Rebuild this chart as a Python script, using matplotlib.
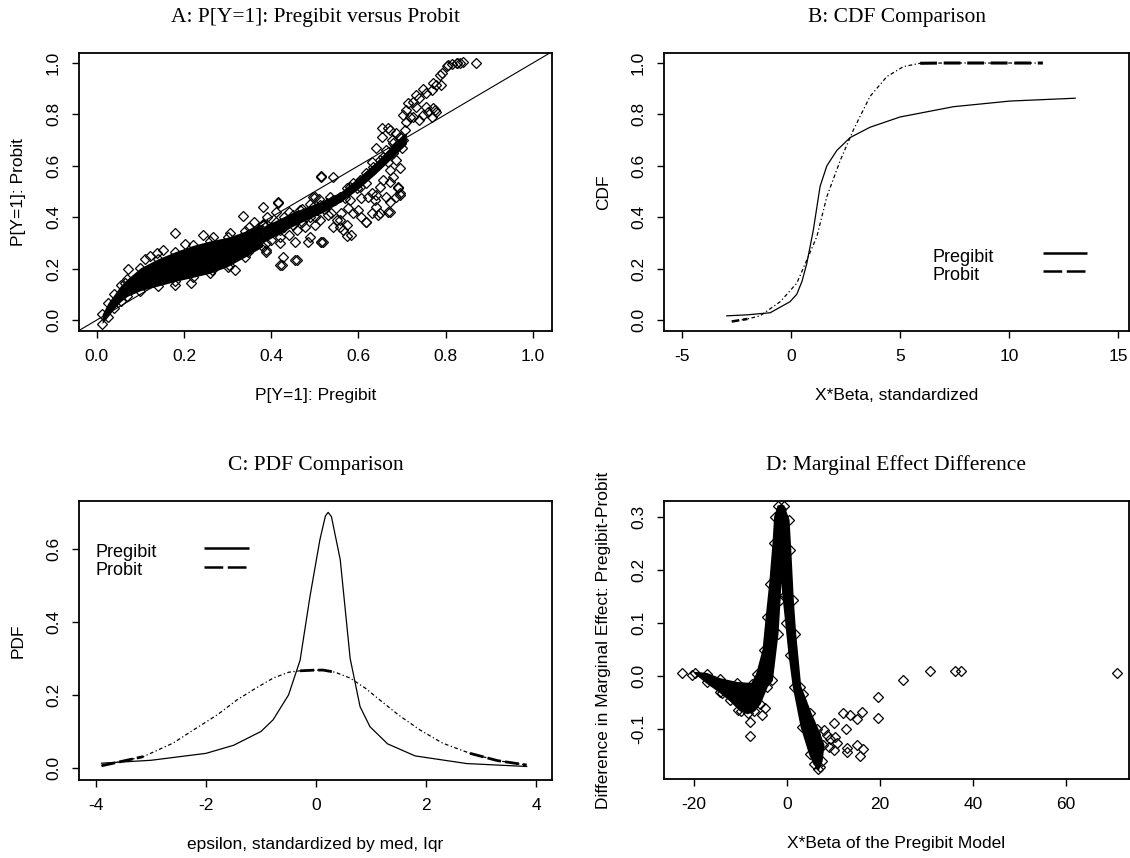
import matplotlib
matplotlib.use('Agg')
import matplotlib.pyplot as plt
import numpy as np

plt.rcParams['font.family'] = ['Liberation Sans', 'DejaVu Sans']

# ---------------- Panel A data: P[Y=1] Pregibit (x) vs Probit (y) ----------------
a_band_x = [0.012, 0.025, 0.04, 0.055, 0.07, 0.10, 0.14, 0.18, 0.22, 0.26, 0.30, 0.34, 0.38]
a_band_lo = [-0.014, 0.012, 0.045, 0.072, 0.092, 0.114, 0.132, 0.150, 0.166, 0.182, 0.208, 0.245, 0.285]
a_band_hi = [0.022, 0.065, 0.100, 0.135, 0.160, 0.203, 0.238, 0.266, 0.290, 0.308, 0.322, 0.345, 0.375]

a_core_x = [0.38, 0.45, 0.52, 0.56, 0.60, 0.64, 0.68, 0.71]
a_core_lo = [0.300, 0.365, 0.420, 0.460, 0.510, 0.570, 0.635, 0.685]
a_core_hi = [0.362, 0.420, 0.465, 0.500, 0.555, 0.615, 0.685, 0.730]

a_upper_x = [0.802, 0.814, 0.826, 0.832, 0.869, 0.787, 0.771, 0.790, 0.748, 0.756, 0.768, 0.733, 0.740, 0.714,
             0.725, 0.710, 0.733, 0.756, 0.771, 0.779, 0.768, 0.703, 0.718, 0.710, 0.725, 0.748, 0.740]
a_upper_y = [0.988, 0.996, 1.001, 1.001, 1.001, 0.953, 0.923, 0.914, 0.898, 0.882, 0.895, 0.875, 0.862, 0.843,
             0.850, 0.817, 0.830, 0.830, 0.824, 0.811, 0.791, 0.798, 0.791, 0.772, 0.791, 0.798, 0.778]

a_mid_x = [0.668, 0.653, 0.676, 0.687, 0.695, 0.703, 0.691, 0.699, 0.641, 0.680, 0.657, 0.630, 0.668, 0.687,
           0.695, 0.672, 0.657, 0.649, 0.680, 0.672, 0.691, 0.695, 0.687, 0.664, 0.672, 0.649, 0.668, 0.641,
           0.630, 0.638, 0.618, 0.603, 0.596, 0.580, 0.569, 0.580, 0.588, 0.600, 0.618, 0.607, 0.573, 0.584,
           0.565, 0.557, 0.542, 0.515, 0.534, 0.546, 0.523, 0.496, 0.504, 0.538, 0.550, 0.561, 0.511, 0.489,
           0.500, 0.489, 0.477, 0.519, 0.557, 0.542, 0.577, 0.607, 0.622, 0.641, 0.630]
a_mid_y = [0.746, 0.713, 0.700, 0.726, 0.713, 0.700, 0.681, 0.668, 0.668, 0.649, 0.636, 0.616, 0.616, 0.622,
           0.590, 0.584, 0.545, 0.519, 0.558, 0.538, 0.512, 0.486, 0.480, 0.480, 0.460, 0.415, 0.421, 0.486,
           0.493, 0.467, 0.532, 0.519, 0.512, 0.519, 0.473, 0.467, 0.415, 0.428, 0.383, 0.402, 0.370, 0.331,
           0.350, 0.389, 0.558, 0.558, 0.480, 0.467, 0.447, 0.480, 0.428, 0.415, 0.389, 0.415, 0.389, 0.402,
           0.370, 0.324, 0.363, 0.305, 0.363, 0.363, 0.435, 0.473, 0.480, 0.441, 0.415]

a_trend_x = [0.466, 0.481, 0.496, 0.511, 0.527, 0.542, 0.557, 0.573, 0.588, 0.603, 0.618, 0.634, 0.649, 0.664,
             0.680, 0.695, 0.706]
a_trend_y = [0.428, 0.415, 0.441, 0.447, 0.454, 0.467, 0.480, 0.512, 0.532, 0.545, 0.571, 0.597, 0.622, 0.661,
             0.687, 0.713, 0.739]

a_outl_x = [0.072, 0.064, 0.110, 0.122, 0.137, 0.152, 0.179, 0.202, 0.244, 0.267, 0.305, 0.336, 0.381, 0.416,
            0.513, 0.500, 0.179, 0.217, 0.263, 0.317, 0.302, 0.347, 0.389, 0.424, 0.428, 0.454, 0.420, 0.454,
            0.485, 0.515, 0.416, 0.389, 0.389, 0.458, 0.420, 0.515, 0.573, 0.618, 0.645, 0.672, 0.691, 0.695,
            0.672, 0.653, 0.778, 0.840, 0.825, 0.806, 0.791, 0.760, 0.775]
a_outl_y = [0.197, 0.142, 0.239, 0.248, 0.259, 0.272, 0.339, 0.295, 0.331, 0.324, 0.337, 0.406, 0.441, 0.457,
            0.560, 0.480, 0.136, 0.142, 0.194, 0.194, 0.214, 0.265, 0.265, 0.214, 0.246, 0.233, 0.324, 0.304,
            0.304, 0.304, 0.458, 0.298, 0.272, 0.233, 0.214, 0.305, 0.327, 0.380, 0.409, 0.422, 0.519, 0.493,
            0.739, 0.746, 0.914, 1.003, 0.999, 0.992, 0.960, 0.811, 0.817]

a_cloud_x = [0.31, 0.33, 0.35, 0.36, 0.37, 0.38, 0.39, 0.40, 0.41, 0.42, 0.43, 0.44, 0.45, 0.46, 0.47, 0.48,
             0.40, 0.42, 0.44, 0.46, 0.35, 0.39, 0.41, 0.36, 0.43, 0.45, 0.47, 0.49, 0.50, 0.52, 0.53, 0.49,
             0.51, 0.44, 0.37, 0.38]
a_cloud_y = [0.30, 0.32, 0.33, 0.30, 0.35, 0.34, 0.37, 0.36, 0.38, 0.35, 0.40, 0.38, 0.41, 0.39, 0.43, 0.40,
             0.31, 0.30, 0.33, 0.35, 0.36, 0.40, 0.42, 0.38, 0.36, 0.37, 0.38, 0.42, 0.40, 0.43, 0.41, 0.45,
             0.47, 0.42, 0.32, 0.37]

# ---------------- Panel B data: CDF comparison ----------------
b_x_preg = [-2.95, -2.0, -0.96, -0.05, 0.26, 0.50, 0.72, 1.02, 1.33, 1.64, 2.10, 2.71, 3.62, 5.00, 7.45, 10.05, 13.03]
b_y_preg = [0.016, 0.020, 0.028, 0.071, 0.10, 0.15, 0.22, 0.35, 0.52, 0.60, 0.66, 0.71, 0.75, 0.79, 0.83, 0.852, 0.863]
b_x_prob = [-2.72, -2.0, -1.42, -0.50, 0.26, 0.72, 1.18, 1.64, 2.25, 2.86, 3.62, 4.39, 5.15, 5.92, 7.0, 9.0, 11.55]
b_y_prob = [-0.006, 0.004, 0.016, 0.071, 0.143, 0.233, 0.324, 0.48, 0.62, 0.74, 0.87, 0.947, 0.986, 0.999, 1.0, 1.0, 1.0]

# ---------------- Panel C data: PDF comparison ----------------
c_x_preg = [-3.90, -3.00, -2.00, -1.50, -1.00, -0.78, -0.50, -0.29, -0.11, 0.07, 0.17, 0.22, 0.28, 0.44, 0.62,
            0.80, 0.98, 1.30, 1.80, 2.74, 3.83]
c_y_preg = [0.013, 0.021, 0.040, 0.062, 0.100, 0.132, 0.200, 0.295, 0.470, 0.625, 0.690, 0.700, 0.688, 0.570,
            0.300, 0.168, 0.113, 0.066, 0.033, 0.012, 0.004]
c_x_prob = [-3.90, -3.14, -2.60, -2.23, -1.80, -1.44, -1.10, -0.78, -0.50, -0.29, 0.0, 0.13, 0.35, 0.62, 0.90,
            1.16, 1.50, 1.89, 2.30, 2.80, 3.30, 3.83]
c_y_prob = [0.006, 0.031, 0.068, 0.104, 0.145, 0.186, 0.218, 0.246, 0.262, 0.266, 0.268, 0.268, 0.262, 0.246,
            0.218, 0.186, 0.145, 0.104, 0.068, 0.040, 0.020, 0.008]

# ---------------- Panel D data: marginal effect difference ----------------
d_poly_x = [-19.8, -17.3, -14.4, -10.8, -7.6, -6.5, -5.1, -4.4, -3.66, -2.95, -2.6, -1.9, -0.8, 0.28, 0.65,
            1.2, 1.7, 2.8, 3.4, 5.0, 6.5, 7.8, 7.4, 6.7, 5.8, 4.9, 3.1, 1.4, 0.5, -0.2, -0.8, -1.35, -1.65,
            -2.09, -3.3, -4.4, -5.9, -7.1, -8.5, -10.0, -12.2, -14.4, -17.3]
d_poly_y = [0.006, 0.004, -0.006, -0.013, -0.015, 0.003, 0.049, 0.112, 0.174, 0.250, 0.300, 0.320, 0.320,
            0.294, 0.238, 0.143, 0.080, -0.020, -0.033, -0.070, -0.100, -0.130, -0.160, -0.175, -0.165,
            -0.147, -0.096, -0.020, 0.040, 0.100, 0.150, 0.206, 0.143, 0.080, -0.008, -0.020, -0.052,
            -0.065, -0.070, -0.065, -0.046, -0.030, -0.012]
d_pts_x = [-22.6, -20.5, -7.9, -7.9, -10.5, -14.0, -5.4, -4.7, 6.0, 7.96, 8.53, 9.25, 9.96, 10.3, 10.7, 9.96,
           8.89, 11.97, 13.4, 14.98, 16.06, 12.69, 12.83, 12.83, 14.98, 15.55, 16.4, 19.6, 19.6, 24.9, 30.75,
           36.1, 37.4, 71.0, -1.3, 6.96]
d_pts_y = [0.005, 0.002, -0.086, -0.113, -0.064, -0.031, -0.074, -0.061, -0.109, -0.101, -0.111, -0.118,
           -0.089, -0.115, -0.127, -0.140, -0.133, -0.070, -0.074, -0.080, -0.067, -0.099, -0.135, -0.143,
           -0.130, -0.150, -0.138, -0.039, -0.079, -0.0075, 0.010, 0.010, 0.010, 0.005, 0.314, -0.172]

# ---------------- ticks / labels ----------------
a_ticks = [0.0, 0.2, 0.4, 0.6, 0.8, 1.0]
a_ticklabels = ['0.0', '0.2', '0.4', '0.6', '0.8', '1.0']
b_xticks = [-5, 0, 5, 10, 15]
c_xticks = [-4, -2, 0, 2, 4]
c_yticks = [0.0, 0.2, 0.4, 0.6]
c_yticklabels = ['0.0', '0.2', '0.4', '0.6']
d_xticks = [-20, 0, 20, 40, 60]
d_yticks = [-0.1, 0.0, 0.1, 0.2, 0.3]
d_yticklabels = ['-0.1', '0.0', '0.1', '0.2', '0.3']
legend_labels = ['Pregibit', 'Probit']

# ---------------- figure ----------------
W, H = 1130, 858
fig = plt.figure(figsize=(W / 100, H / 100), dpi=100)


def add_axes(l, r, t, b):
    return fig.add_axes([l / W, 1 - b / H, (r - l) / W, (b - t) / H])


axA = add_axes(79, 552, 53, 331)
axB = add_axes(664, 1129, 53, 331)
axC = add_axes(79, 552, 501, 780)
axD = add_axes(664, 1129, 501, 779)

LBL = 12.5
mk = dict(ls='none', marker='D', ms=4.6, mfc='none', mec='k', mew=0.9)
THIN_DASHDOT = (0, (3, 2, 1, 2))
LEG_DASH = (0, (7.5, 1.8))


def style(ax, xticks, xtl, yticks, ytl, xlabel, ylabel, title, xlim, ylim, ylx):
    ax.set_xlim(*xlim)
    ax.set_ylim(*ylim)
    ax.set_xticks(xticks)
    ax.set_xticklabels(xtl)
    ax.set_yticks(yticks)
    ax.set_yticklabels(ytl)
    ax.tick_params(direction='out', length=5, width=1.0, pad=8, labelsize=LBL, colors='k')
    for lab in ax.get_yticklabels():
        lab.set_rotation(90)
        lab.set_va('center')
    for s in ax.spines.values():
        s.set_linewidth(1.3)
    ax.set_xlabel(xlabel, fontsize=LBL)
    ax.xaxis.set_label_coords(0.5, -0.205)
    ax.set_ylabel(ylabel, fontsize=LBL)
    ax.yaxis.set_label_coords(ylx, 0.5)
    ax.set_title(title, family=['Liberation Serif', 'DejaVu Serif'], fontsize=15.5, pad=22)


def key(ax, tx, ty1, ty2, lx1, lx2, ly1, ly2):
    """R-style legend without box: labels on the left, line samples on the right."""
    ax.text(tx, ty1, legend_labels[0], transform=ax.transAxes, fontsize=13, va='baseline', ha='left')
    ax.text(tx, ty2, legend_labels[1], transform=ax.transAxes, fontsize=13, va='baseline', ha='left')
    ax.plot([lx1, lx2], [ly1, ly1], transform=ax.transAxes, color='k', lw=1.8, solid_capstyle='butt')
    ax.plot([lx1, lx2], [ly2, ly2], transform=ax.transAxes, color='k', lw=1.8, ls=LEG_DASH,
            dash_capstyle='butt')


# Panel A
axA.fill_between(a_band_x, a_band_lo, a_band_hi, color='k', lw=0)
axA.fill_between(a_core_x, a_core_lo, a_core_hi, color='k', lw=0)
axA.plot(a_band_x, a_band_hi, **mk)
axA.plot(a_band_x, a_band_lo, **mk)
for xs, ys in [(a_upper_x, a_upper_y), (a_mid_x, a_mid_y), (a_trend_x, a_trend_y),
               (a_outl_x, a_outl_y), (a_cloud_x, a_cloud_y)]:
    axA.plot(xs, ys, **mk)
axA.axline((0, 0), (1, 1), color='k', lw=0.8)
style(axA, a_ticks, a_ticklabels, a_ticks, a_ticklabels, 'P[Y=1]: Pregibit', 'P[Y=1]: Probit',
      'A: P[Y=1]: Pregibit versus Probit', (-0.041, 1.044), (-0.043, 1.039), -0.112)

# Panel B
bxp = np.array(b_x_prob)
byp = np.array(b_y_prob)
axB.plot(b_x_preg, b_y_preg, color='k', lw=0.9)
axB.plot(bxp, byp, color='k', lw=0.9, ls=THIN_DASHDOT)
axB.plot(bxp, np.where(bxp >= 5.8, byp, np.nan), color='k', lw=2.2, ls=(0, (5.5, 2.2)))
axB.plot(bxp, np.where(bxp <= -2.0, byp, np.nan), color='k', lw=1.8, ls=(0, (3, 1.5)))
key(axB, 0.578, 0.248, 0.183, 0.815, 0.910, 0.281, 0.216)
style(axB, b_xticks, [str(v) for v in b_xticks], a_ticks, a_ticklabels, 'X*Beta, standardized', 'CDF',
      'B: CDF Comparison', (-5.83, 15.5), (-0.043, 1.039), -0.114)

# Panel C
cxp = np.array(c_x_prob)
cyp = np.array(c_y_prob)
axC.plot(c_x_preg, c_y_preg, color='k', lw=0.9)
axC.plot(cxp, cyp, color='k', lw=0.9, ls=THIN_DASHDOT)
for m in [(cxp <= -3.1), (cxp >= 2.75), ((cxp >= -0.3) & (cxp <= 0.35))]:
    axC.plot(cxp, np.where(m, cyp, np.nan), color='k', lw=2.0, ls=(0, (5, 1.5)))
key(axC, 0.034, 0.800, 0.735, 0.264, 0.359, 0.832, 0.763)
style(axC, c_xticks, [str(v) for v in c_xticks], c_yticks, c_yticklabels,
      'epsilon, standardized by med, Iqr', 'PDF', 'C: PDF Comparison', (-4.31, 4.29), (-0.033, 0.731), -0.112)

# Panel D
axD.fill(d_poly_x, d_poly_y, color='k', lw=1.5, ec='k')
axD.plot(d_poly_x, d_poly_y, **mk)
axD.plot(d_pts_x, d_pts_y, **mk)
style(axD, d_xticks, [str(v) for v in d_xticks], d_yticks, d_yticklabels, 'X*Beta of the Pregibit Model',
      'Difference in Marginal Effect: Pregibit-Probit', 'D: Marginal Effect Difference',
      (-26.5, 73.5), (-0.194, 0.330), -0.114)

fig.savefig('out.png', dpi=100, facecolor='white')
